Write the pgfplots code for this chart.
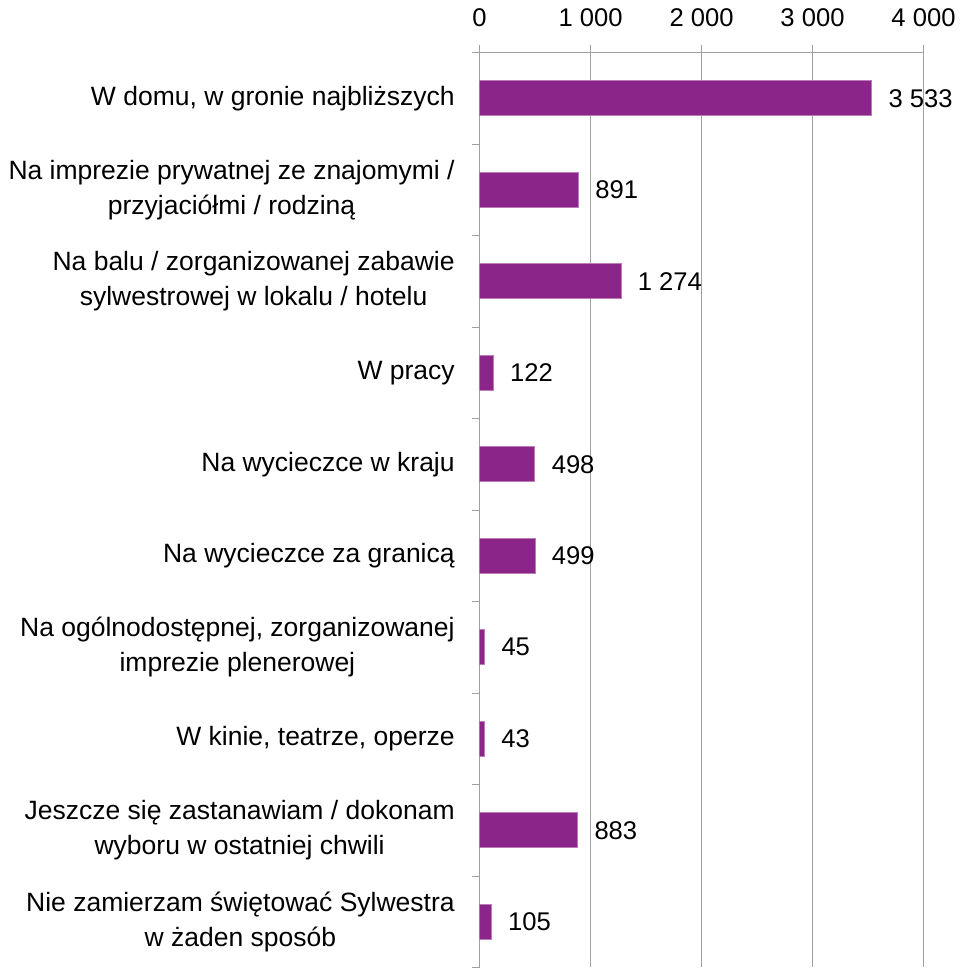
\documentclass[border=0pt]{standalone}
\usepackage{pgfplots}
\pgfplotsset{compat=1.18}
\usepackage{fontspec}
\setmainfont{Liberation Sans}
\definecolor{barc}{RGB}{139,37,137}
\definecolor{axc}{RGB}{160,160,160}
\begin{document}
\fontsize{12.8}{17}\selectfont
\begin{tikzpicture}
\begin{axis}[
  scale only axis,
  width=222pt, height=457.5pt,
  xbar, bar width=17.5pt,
  xmin=0, xmax=4000,
  ymin=0.5, ymax=10.5,
  y dir=reverse,
  axis x line*=top,
  axis y line*=left,
  axis line style={axc, -},
  tick align=outside,
  major tick length=4pt, minor tick length=4pt,
  xtick={0,1000,2000,3000,4000},
  xticklabels={0,1 000,2 000,3 000,4 000},
  x tick style={axc},
  xmajorgrids, grid style={axc, line width=0.6pt},
  xticklabel style={yshift=4.5pt, font=\fontsize{12.8}{17}\selectfont},
  ytick={1,...,10},
  major y tick style={draw=none},
  minor y tick style={axc},
  minor ytick={0.5,1.5,...,10.5},
  yticklabel style={align=center, xshift=-4pt, font=\fontsize{13.25}{17.5}\selectfont},
  yticklabels={
    {W domu, w gronie najbliższych},
    {Na imprezie prywatnej ze znajomymi /\\przyjaciółmi / rodziną},
    {Na balu / zorganizowanej zabawie\\sylwestrowej w lokalu / hotelu},
    {W pracy},
    {Na wycieczce w kraju},
    {Na wycieczce za granicą},
    {Na ogólnodostępnej, zorganizowanej\\imprezie plenerowej},
    {W kinie, teatrze, operze},
    {Jeszcze się zastanawiam / dokonam\\wyboru w ostatniej chwili},
    {Nie zamierzam świętować Sylwestra\\w żaden sposób}},
  /pgf/number format/assume math mode=true,
  nodes near coords,
  nodes near coords style={font=\fontsize{12.8}{17}\selectfont, xshift=4pt,
    /pgf/number format/.cd, fixed, precision=0, 1000 sep={\ }},
]
\addplot[fill=barc, draw=barc!60!white, line width=0.4pt] coordinates {
  (3533,1) (891,2) (1274,3) (122,4) (498,5) (499,6) (45,7) (43,8) (883,9) (105,10)
};
\end{axis}
\end{tikzpicture}
\end{document}
